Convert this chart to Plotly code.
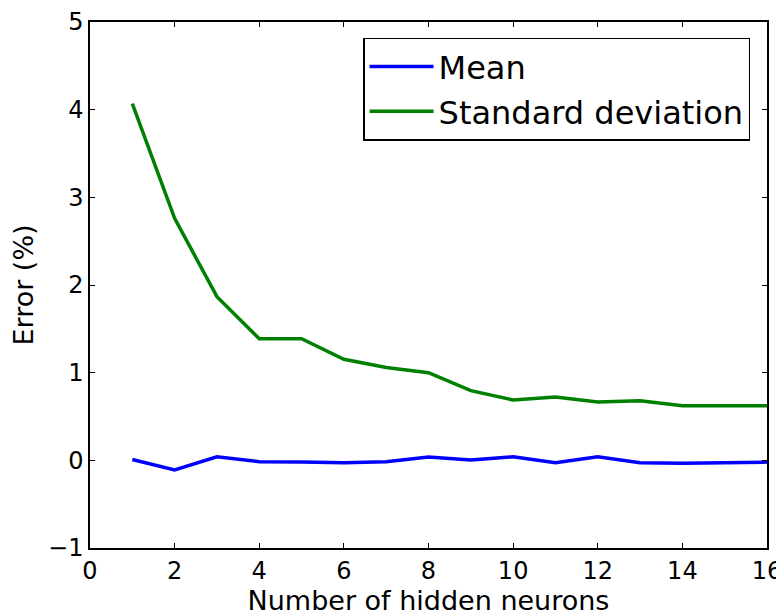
import plotly.graph_objects as go

neurons = list(range(1, 17))
mean_err = [0.01, -0.11, 0.04, -0.015, -0.02, -0.027, -0.015, 0.038,
            0.004, 0.04, -0.027, 0.042, -0.027, -0.034, -0.027, -0.02]
std_err = [4.07, 2.76, 1.867, 1.388, 1.388, 1.152, 1.06, 1.0,
           0.795, 0.688, 0.722, 0.665, 0.68, 0.624, 0.624, 0.624]

x_ticks = [0, 2, 4, 6, 8, 10, 12, 14, 16]
y_ticks = [-1, 0, 1, 2, 3, 4, 5]

font = "DejaVu Sans"

fig = go.Figure()
fig.add_trace(go.Scatter(x=neurons, y=mean_err, mode="lines", name="Mean",
                         line=dict(color="#0000ff", width=3.5)))
fig.add_trace(go.Scatter(x=neurons, y=std_err, mode="lines", name="Standard deviation",
                         line=dict(color="#008000", width=3.5)))

axis_common = dict(showgrid=False, zeroline=False, showline=True, linecolor="black",
                   linewidth=1.5, mirror="ticks", ticks="inside", ticklen=5,
                   tickcolor="black", automargin=False,
                   tickfont=dict(family=font, size=24, color="black"))

# page body has an 8px default margin, so the figure is 8px smaller than the window
fig.update_layout(
    width=776, height=608,
    paper_bgcolor="white", plot_bgcolor="white",
    margin=dict(l=82, r=17, t=14, b=68),
    font=dict(family=font, color="black"),
    xaxis=dict(range=[0, 16], tickvals=x_ticks, ticktext=[str(v) for v in x_ticks],
               title=dict(text="Number of hidden neurons", font=dict(family=font, size=27), standoff=2),
               **axis_common),
    yaxis=dict(range=[-1, 5], tickvals=y_ticks, ticktext=["\u22121" if v < 0 else str(v) for v in y_ticks],
               title=dict(text="Error (%)", font=dict(family=font, size=27), standoff=10),
               **axis_common),
    legend=dict(x=0.975, y=0.97, xanchor="right", yanchor="top",
                bordercolor="black", borderwidth=1.5, bgcolor="white",
                font=dict(family=font, size=32), itemwidth=64),
    showlegend=True,
)

fig.write_html("out.html")
